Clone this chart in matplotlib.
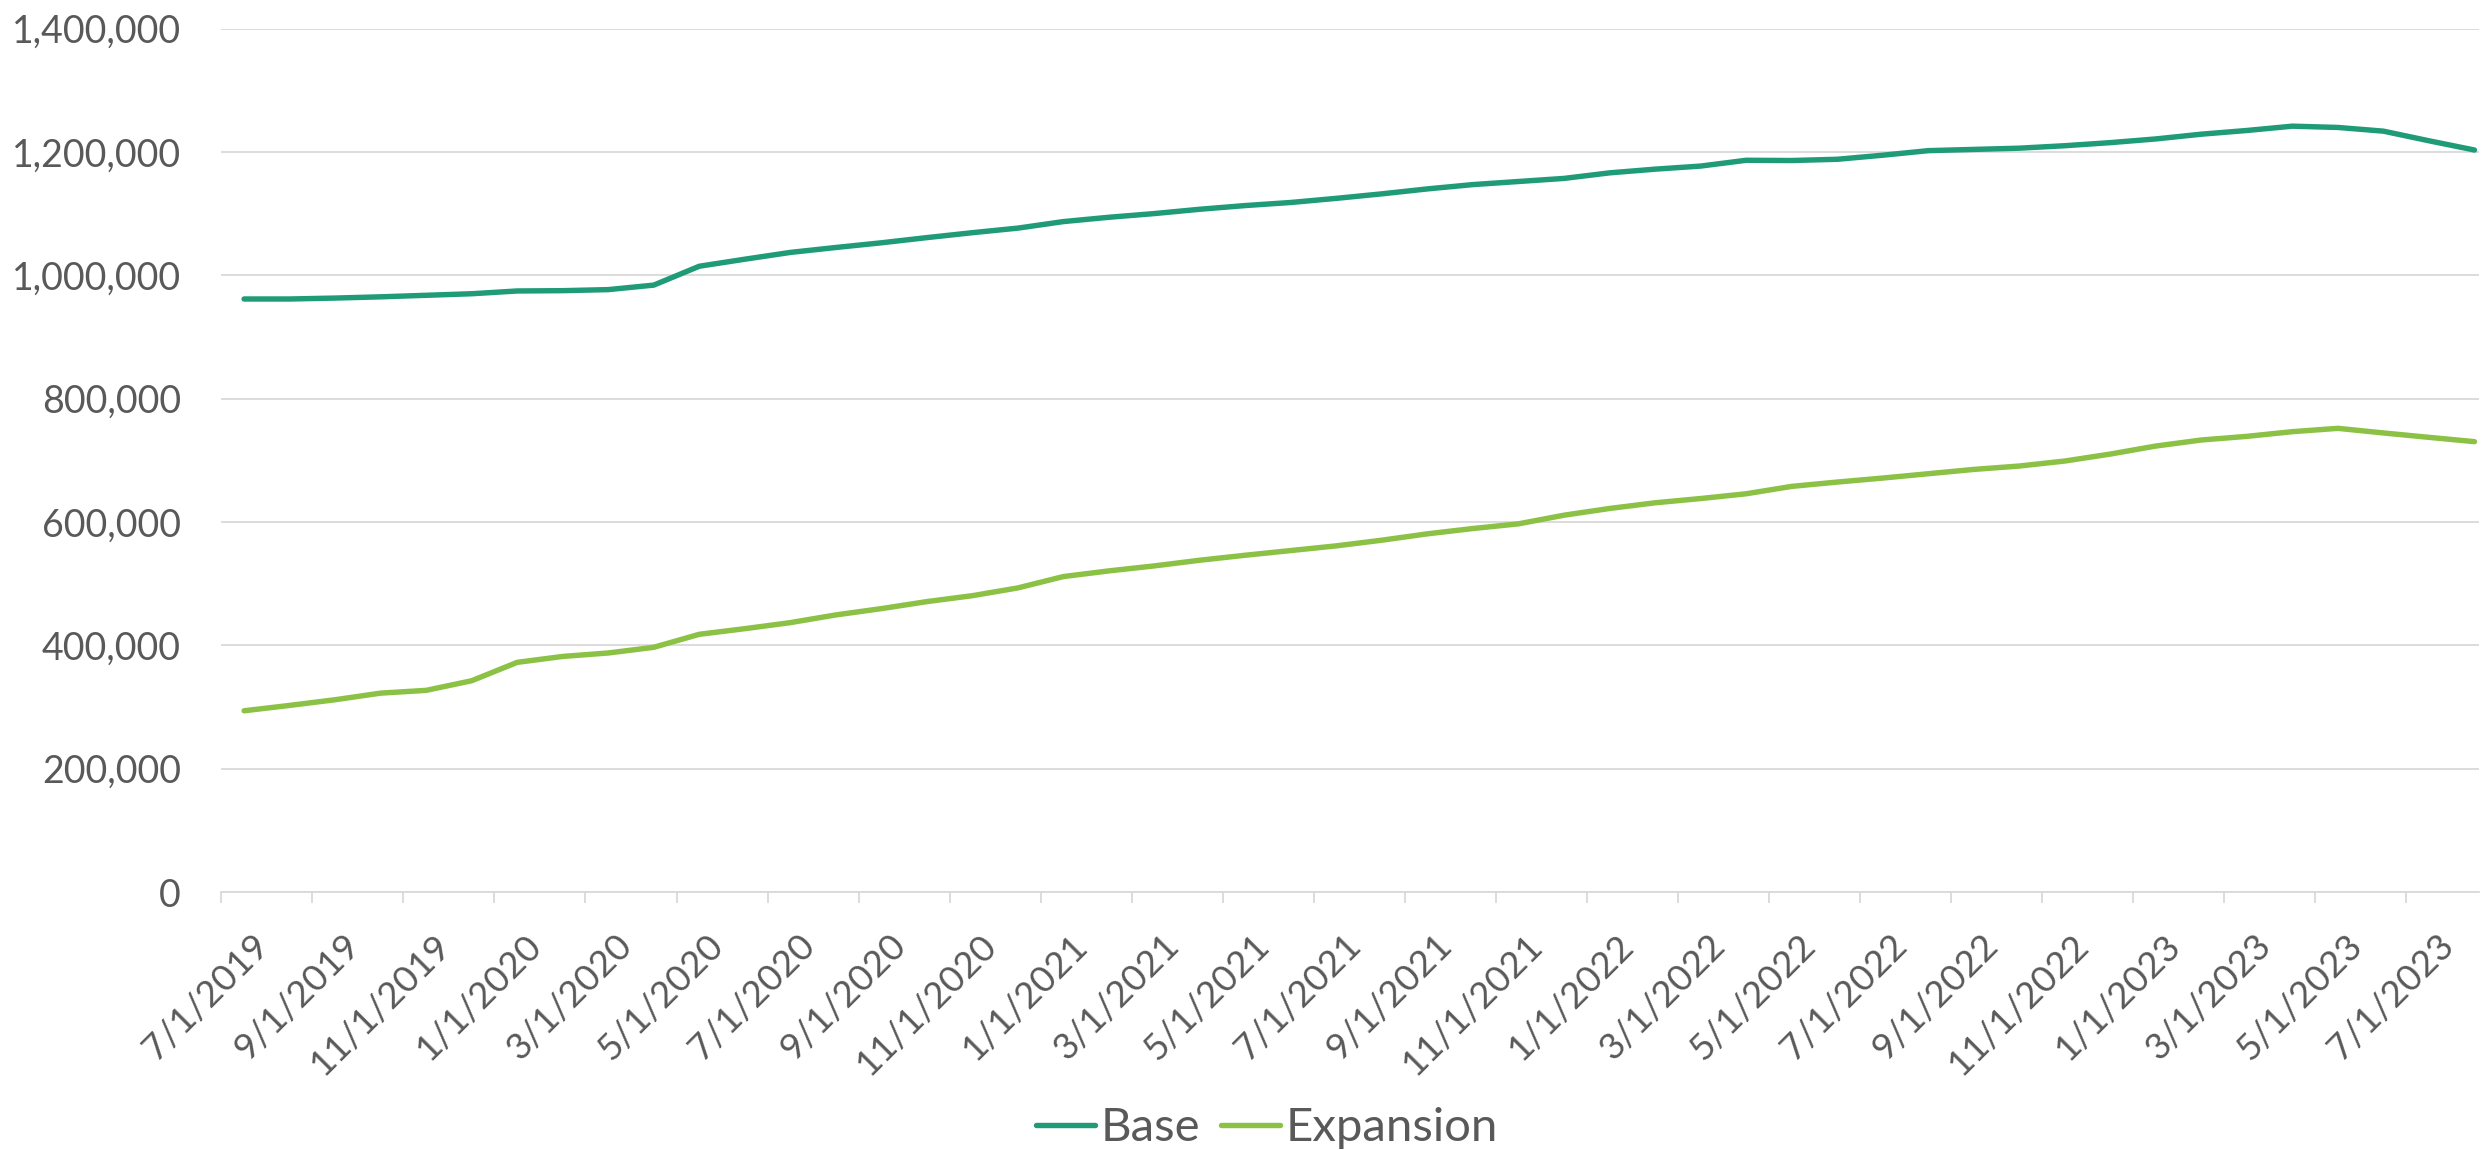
import numpy as np
import matplotlib
matplotlib.use("Agg")
import matplotlib.pyplot as plt
from matplotlib.ticker import FuncFormatter
from matplotlib.transforms import ScaledTranslation

plt.rcParams['font.family'] = ['Lato', 'DejaVu Sans']

# monthly values, 7/2019 .. 8/2023
base = [961500, 961500, 963000, 965000, 967500, 970000, 974500, 975000, 976700, 984000,
        1014600, 1026000, 1037000, 1045000, 1052600, 1061000, 1069000, 1076400, 1087000, 1094000,
        1100000, 1107000, 1113000, 1118000, 1124700, 1132000, 1140000, 1147000, 1152000, 1157000,
        1166000, 1172000, 1177000, 1186400, 1186000, 1188000, 1194600, 1202000, 1204000, 1206000,
        1210000, 1215000, 1221000, 1228700, 1234700, 1241700, 1239600, 1233600, 1218000, 1203000]
expansion = [293900, 302600, 311800, 322500, 327000, 342600, 372400, 382000, 387600, 396800,
             417900, 427000, 436800, 449300, 459500, 470900, 480500, 493100, 511500, 520700,
             528800, 538000, 546100, 553700, 561300, 570500, 580800, 589400, 597000, 611000,
             621900, 631100, 638000, 645700, 657700, 664700, 671200, 678200, 685200, 690700,
             698800, 710100, 723100, 732900, 738800, 746400, 751800, 744300, 737200, 730200]
tick_labels = ["7/1/2019", "9/1/2019", "11/1/2019", "1/1/2020", "3/1/2020", "5/1/2020",
               "7/1/2020", "9/1/2020", "11/1/2020", "1/1/2021", "3/1/2021", "5/1/2021",
               "7/1/2021", "9/1/2021", "11/1/2021", "1/1/2022", "3/1/2022", "5/1/2022",
               "7/1/2022", "9/1/2022", "11/1/2022", "1/1/2023", "3/1/2023", "5/1/2023",
               "7/1/2023"]

text_color = '#595959'
grid_color = '#D9D9D9'

fig = plt.figure(figsize=(24.84, 11.5), dpi=100)
ax = fig.add_axes([0.0891, 0.2243, 0.998 - 0.0891, 0.9752 - 0.2243])

# points sit in the middle of each month slot
x = np.arange(len(base)) + 0.5
ax.plot(x, base, color='#1F9B77', lw=3.9, solid_capstyle='round', label='Base')
ax.plot(x, expansion, color='#8BC145', lw=3.9, solid_capstyle='round', label='Expansion')

ax.set_xlim(0, 49.6)
ax.set_ylim(0, 1400000)
ax.set_yticks(np.arange(0, 1400001, 200000))
ax.yaxis.set_major_formatter(FuncFormatter(lambda v, p: f"{int(v):,}"))
ax.grid(axis='y', color=grid_color, lw=1.3)
ax.set_axisbelow(True)

for s in ['top', 'right', 'left']:
    ax.spines[s].set_visible(False)
ax.spines['bottom'].set_color(grid_color)
ax.spines['bottom'].set_linewidth(1.3)

ax.tick_params(axis='y', length=0, pad=29, labelsize=27, labelcolor=text_color)
ax.tick_params(axis='x', length=8, width=1.3, color=grid_color, pad=18,
               labelsize=26.5, labelcolor=text_color)

ax.set_xticks(np.arange(0, 2 * len(tick_labels), 2))
ax.set_xticklabels(tick_labels, rotation=45, ha='right', va='top', rotation_mode='anchor')
shift = ScaledTranslation(0.30, 0, fig.dpi_scale_trans)
for lab in ax.get_xticklabels():
    lab.set_transform(lab.get_transform() + shift)

leg = fig.legend(loc='center', bbox_to_anchor=(0.51, 0.019), ncol=2, frameon=False,
                 fontsize=34, handlelength=1.25, handletextpad=0.12, columnspacing=0.45)
for t in leg.get_texts():
    t.set_color(text_color)

fig.savefig('out.png', dpi=100)
